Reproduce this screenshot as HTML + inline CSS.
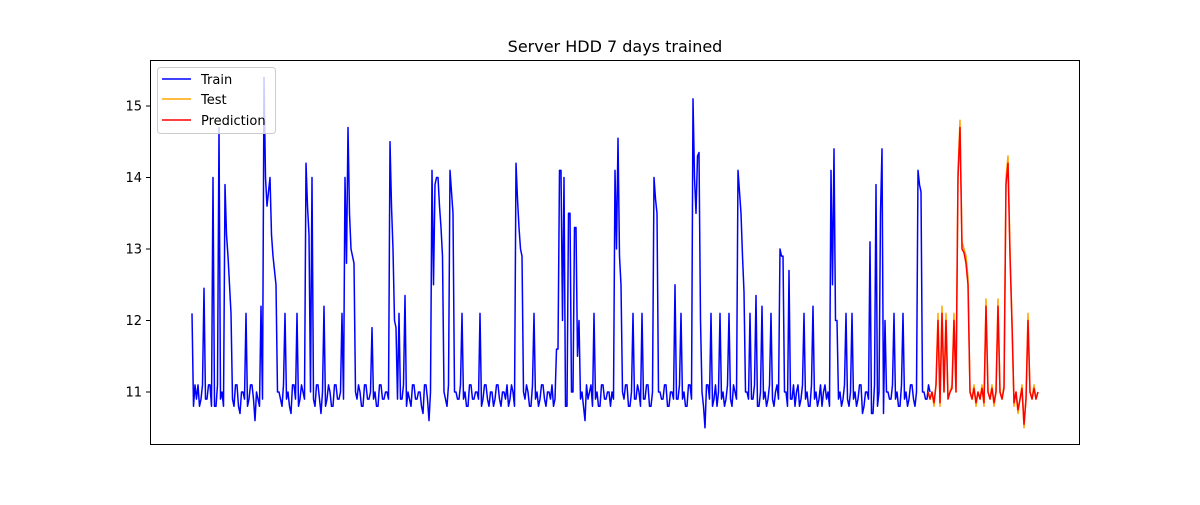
<!DOCTYPE html>
<html><head><meta charset="utf-8"><style>
html,body{margin:0;padding:0;background:#fff;}
svg text{font-family:"DejaVu Sans","Liberation Sans",sans-serif;}
</style></head><body>
<svg id="chart" width="1200" height="500" xmlns="http://www.w3.org/2000/svg">
<rect width="1200" height="500" fill="#fff"/>
<text x="615" y="52" font-size="16" text-anchor="middle" fill="#000">Server HDD 7 days trained</text>
<g id="plot"></g>
<g id="yaxis"></g>
<rect x="150.5" y="60.5" width="929" height="384" fill="none" stroke="#000" stroke-width="1"/>
<g>
<rect x="157.5" y="67.5" width="118" height="66" rx="3" fill="#fff" fill-opacity="0.8" stroke="#ccc"/>
<g><line x1="162" y1="79" x2="191" y2="79" stroke="#0000ff" stroke-width="1.5"/><text x="201" y="84" font-size="13">Train</text></g>
<g><line x1="162" y1="99" x2="191" y2="99" stroke="#ffa500" stroke-width="1.5"/><text x="201" y="104" font-size="13">Test</text></g>
<g><line x1="162" y1="120" x2="191" y2="120" stroke="#ff0000" stroke-width="1.5"/><text x="201" y="125" font-size="13">Prediction</text></g>
</g>
</svg>
<script>
const trainValues=[
12.1,10.8,11.1,10.9,11.1,10.8,10.9,11.1,12.45,10.9,10.9,11.1,11.1,10.8,14.0,10.8,10.8,11.1,14.7,10.9,
11.0,10.8,13.9,13.2,12.9,12.5,12.1,10.9,10.8,11.1,11.1,10.8,10.7,11.0,11.0,10.9,12.1,10.8,10.9,11.1,
11.1,10.9,10.6,11.0,10.9,10.8,12.2,10.9,15.4,14.0,13.6,13.8,14.0,13.2,12.9,12.7,12.5,11.0,11.0,10.9,
10.8,11.1,12.1,10.9,11.0,10.8,10.7,11.1,11.1,10.9,12.1,10.8,10.9,11.1,11.0,10.9,14.2,13.6,13.2,11.0,
14.0,10.9,10.8,11.1,11.1,10.9,10.7,11.0,12.2,10.8,10.9,11.1,11.0,10.8,10.8,11.1,11.1,10.9,10.9,11.0,
12.1,10.9,14.0,12.8,14.7,13.5,13.0,12.9,12.8,11.0,10.9,11.1,11.0,10.8,10.8,11.1,11.1,10.9,10.9,11.0,
11.9,10.9,11.0,10.8,10.8,11.1,11.1,10.9,10.9,11.0,11.0,10.9,14.5,13.6,13.0,12.0,11.9,10.9,12.1,10.9,
10.9,11.1,12.35,10.8,11.0,10.9,10.8,11.1,11.1,10.9,10.9,11.0,11.0,10.8,10.7,11.1,11.1,10.9,10.6,11.0,
14.1,12.5,13.9,14.0,14.0,13.6,13.3,12.9,11.0,10.9,10.8,11.1,14.1,13.8,13.5,11.0,11.0,10.9,10.9,11.1,
12.1,10.9,11.0,10.8,10.8,11.1,11.1,10.9,10.9,11.0,11.0,10.9,12.1,10.8,10.9,11.1,11.1,10.9,10.8,11.0,
11.0,10.8,10.9,11.1,11.1,10.9,10.8,11.0,11.0,10.9,11.1,10.8,10.9,11.1,11.0,10.8,14.2,13.7,13.3,13.0,
12.9,11.0,10.9,11.1,11.0,10.8,10.8,11.1,12.1,10.9,11.0,10.8,10.9,11.1,11.1,10.9,10.8,11.0,11.0,10.9,
11.1,10.8,10.9,11.6,11.6,14.1,14.1,12.0,14.0,10.8,10.8,13.5,13.5,11.0,11.0,13.3,13.3,11.5,12.0,10.9,
11.0,10.8,10.6,11.1,10.9,11.0,11.1,10.8,12.1,10.9,11.0,10.8,10.8,11.1,11.1,10.9,10.9,11.0,11.0,10.8,
11.0,10.9,14.1,13.0,14.55,12.9,12.5,11.0,10.9,11.1,11.1,10.8,10.8,11.0,12.1,10.9,10.9,11.1,11.0,10.8,
12.1,10.9,10.9,11.1,11.1,10.8,10.8,11.0,14.0,13.7,13.5,11.0,11.0,10.9,10.9,11.1,11.1,10.8,10.8,11.0,
11.0,10.9,12.5,10.9,10.9,11.1,12.1,10.9,11.0,10.8,10.8,11.1,11.1,10.9,15.1,14.0,13.5,14.3,14.35,12.0,
11.0,10.8,10.5,11.1,11.1,10.9,12.1,10.8,10.9,11.1,10.8,11.0,12.1,10.9,11.0,10.8,10.9,11.1,12.1,10.9,
10.8,11.1,11.0,10.9,14.1,13.8,13.5,12.9,12.4,11.0,11.0,10.9,12.1,10.9,10.9,11.1,12.35,10.8,10.8,11.0,
12.2,10.9,11.0,10.8,10.9,11.1,12.1,10.9,10.8,11.0,11.1,10.9,13.0,12.9,12.9,11.0,11.0,10.8,12.7,10.9,
10.9,11.1,10.8,11.0,11.1,10.8,10.9,11.1,12.1,10.9,11.0,10.8,10.8,11.1,12.2,10.9,11.0,10.8,10.9,11.1,
10.8,11.0,11.1,10.9,11.0,10.8,14.1,12.5,14.4,12.0,12.0,10.9,11.0,10.8,10.9,11.1,12.1,10.9,10.8,11.0,
12.1,10.9,11.0,10.8,10.9,11.1,11.1,10.7,10.8,11.0,11.0,10.9,13.1,10.7,10.7,11.1,13.9,10.8,11.0,13.5,
14.4,10.7,12.0,11.0,11.0,10.9,10.9,11.1,12.1,10.9,11.0,10.8,10.8,11.1,12.1,10.9,11.0,10.8,10.9,11.1,
11.1,10.9,10.8,11.0,14.1,13.9,13.8,11.0,11.0,10.9,10.9,11.1,11.0];
const testValues=[11.0,10.9,11.0,10.8,11.1,12.1,10.8,12.2,11.0,12.1,
10.9,11.0,11.1,12.1,11.0,14.1,14.8,13.1,13.0,12.9,
12.6,11.0,10.9,11.1,10.8,11.0,10.9,11.1,10.8,12.3,
11.0,10.9,11.1,10.8,11.0,12.3,11.0,10.9,11.1,14.0,
14.3,13.0,12.0,10.8,11.0,10.7,10.9,11.1,10.5,10.9,
12.1,11.0,10.9,11.1,10.9,11.0];
const predValues=[11.0,10.9,11.0,10.85,11.1,12.0,10.85,12.1,11.0,12.0,
10.9,11.0,11.05,12.0,11.0,14.0,14.7,13.0,12.95,12.8,
12.5,11.0,10.9,11.05,10.85,11.0,10.9,11.05,10.85,12.2,
11.0,10.9,11.05,10.85,11.0,12.2,11.0,10.9,11.05,13.9,
14.2,12.9,11.95,10.85,11.0,10.75,10.9,11.05,10.55,10.9,
12.0,11.0,10.9,11.05,10.9,11.0];
const yTicks=[11,12,13,14,15];
const trainX0=192,trainX1=930,testX0=928,testX1=1038;
function yScale(v){return 392-(v-11)*71.5;}
function xTrain(i){return trainX0+i*(trainX1-trainX0)/(trainValues.length-1);}
function xTest(i){return testX0+i*(testX1-testX0)/(testValues.length-1);}
const NS="http://www.w3.org/2000/svg";
const plot=document.getElementById('plot');
function addLine(vals,xf,color,name){
  const p=document.createElementNS(NS,'polyline');
  p.setAttribute('points',vals.map((v,i)=>xf(i).toFixed(1)+','+yScale(v).toFixed(1)).join(' '));
  p.setAttribute('fill','none');p.setAttribute('stroke',color);p.setAttribute('stroke-width','1.5');
  p.setAttribute('stroke-linejoin','round');
  
  
  plot.appendChild(p);
}
addLine(trainValues,xTrain,'#0000ff','train-line');
addLine(testValues,xTest,'#ffa500','test-line');
addLine(predValues,xTest,'#ff0000','prediction-line');
const ya=document.getElementById('yaxis');
yTicks.forEach(t=>{
  const y=yScale(t);
  const l=document.createElementNS(NS,'line');
  l.setAttribute('x1',146);l.setAttribute('x2',150);l.setAttribute('y1',y);l.setAttribute('y2',y);l.setAttribute('stroke','#000');
  
  
  ya.appendChild(l);
  const tx=document.createElementNS(NS,'text');
  tx.setAttribute('x',142);tx.setAttribute('y',y+4.5);tx.setAttribute('text-anchor','end');tx.setAttribute('font-size','13');
  tx.textContent=t;
  
  
  ya.appendChild(tx);
});
</script>
</body></html>
